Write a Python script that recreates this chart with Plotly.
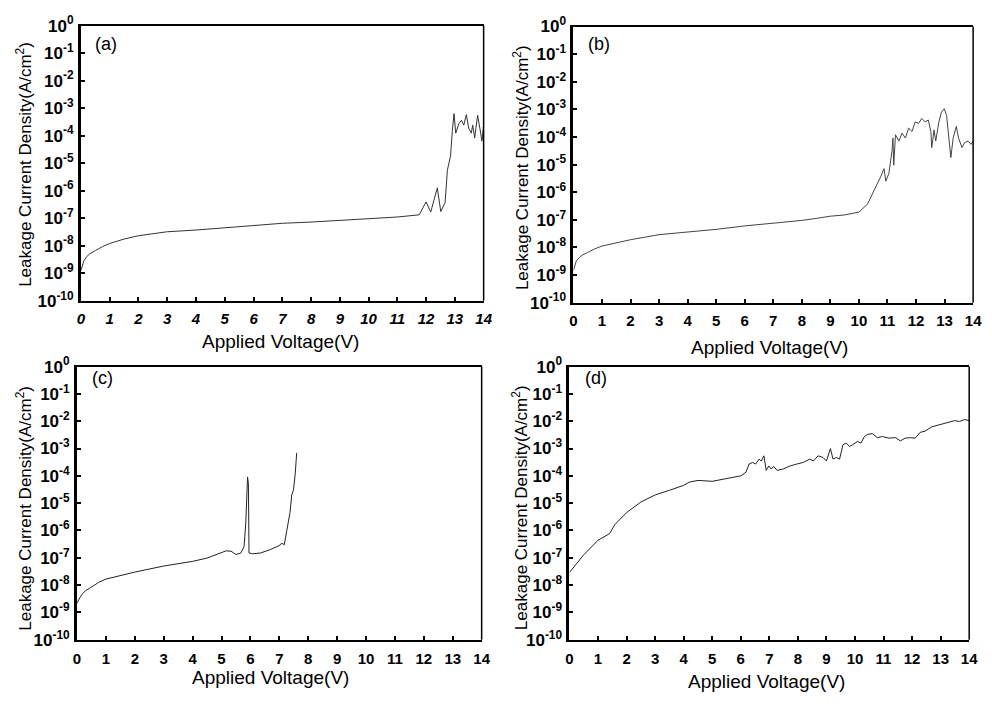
import plotly.graph_objects as go

# ---------------- data ----------------
volt_a = [0, 0.05, 0.1, 0.2, 0.3, 0.5, 0.75, 1, 1.5, 2, 3, 4, 5, 6, 7, 8, 9, 10, 11, 11.76,
          12.0, 12.16, 12.39, 12.51, 12.66, 12.74, 12.85, 12.91, 12.97, 13.03, 13.14, 13.23,
          13.31, 13.4, 13.48, 13.57, 13.62, 13.69, 13.79, 13.88, 13.94, 14.0]
curr_a = [1.26e-9, 2.0e-9, 2.8e-9, 4.0e-9, 5.0e-9, 6.6e-9, 9.3e-9, 1.2e-8, 1.74e-8, 2.3e-8,
          3.2e-8, 3.7e-8, 4.5e-8, 5.2e-8, 6.5e-8, 7.2e-8, 8.3e-8, 9.8e-8, 1.1e-7, 1.32e-7,
          3.9e-7, 1.66e-7, 1.26e-6, 1.74e-7, 3.7e-7, 5.5e-6, 1.86e-5, 1.4e-4, 6.3e-4, 1.23e-4,
          2.75e-4, 3.6e-4, 2.4e-4, 5.8e-4, 1.86e-4, 1.23e-4, 2.4e-4, 8.3e-5, 5.5e-4, 1.6e-4,
          6.3e-5, 2.4e-4]

volt_b = [0, 0.05, 0.1, 0.2, 0.3, 0.5, 0.75, 1, 1.5, 2, 3, 4, 5, 6, 7, 8, 8.5, 8.8, 9, 9.5,
          10, 10.3, 10.47, 10.76, 10.88, 10.94, 11.05, 11.16, 11.19, 11.22, 11.28, 11.4, 11.51,
          11.63, 11.74, 11.86, 11.97, 12.09, 12.2, 12.32, 12.43, 12.52, 12.55, 12.63, 12.69,
          12.8, 12.89, 12.99, 13.07, 13.15, 13.22, 13.3, 13.41, 13.49, 13.61, 13.7, 13.82,
          13.93, 14.0]
curr_b = [1.45e-9, 2.2e-9, 3.2e-9, 4.2e-9, 5.2e-9, 6.6e-9, 8.9e-9, 1.12e-8, 1.5e-8, 1.9e-8,
          2.9e-8, 3.5e-8, 4.5e-8, 6.0e-8, 7.4e-8, 9.5e-8, 1.12e-7, 1.26e-7, 1.35e-7, 1.5e-7,
          1.9e-7, 3.7e-7, 8.3e-7, 3.6e-6, 7.1e-6, 2.5e-6, 4.8e-6, 3.2e-5, 9.1e-5, 9.5e-6,
          1.2e-4, 7.1e-5, 1.38e-4, 9.1e-5, 2.1e-4, 1.58e-4, 3.5e-4, 3.1e-4, 4.7e-4, 3.5e-4,
          4.1e-4, 1.58e-4, 4.1e-5, 1.8e-4, 7.1e-5, 3.5e-4, 7.9e-4, 1.05e-3, 6.0e-4, 1.2e-4,
          1.8e-5, 9.1e-5, 2.4e-4, 9.1e-5, 4.1e-5, 6.2e-5, 7.1e-5, 5.4e-5, 7.2e-5]

volt_c = [0, 0.05, 0.1, 0.2, 0.3, 0.5, 0.75, 1, 1.5, 2, 3, 4, 4.5, 4.98, 5.16, 5.33, 5.5,
          5.67, 5.78, 5.84, 5.9, 5.93, 5.95, 6.07, 6.35, 6.69, 6.98, 7.09, 7.17, 7.26, 7.37,
          7.43, 7.49, 7.55, 7.6]
curr_c = [2.2e-9, 2.8e-9, 3.5e-9, 5.0e-9, 6.3e-9, 8.5e-9, 1.26e-8, 1.66e-8, 2.3e-8, 3.0e-8,
          5.0e-8, 7.4e-8, 9.8e-8, 1.5e-7, 1.8e-7, 1.74e-7, 1.32e-7, 1.5e-7, 2.6e-7, 2.0e-6,
          9.1e-5, 5.2e-5, 1.5e-7, 1.4e-7, 1.5e-7, 2.0e-7, 2.75e-7, 3.4e-7, 3.0e-7, 1.02e-6,
          4.6e-6, 2.0e-5, 3.1e-5, 1.2e-4, 6.9e-4]

volt_d = [0, 0.5, 1, 1.4, 1.6, 2, 2.5, 3, 3.5, 4, 4.2, 4.5, 5, 5.5, 6, 6.18, 6.29, 6.41,
          6.52, 6.64, 6.72, 6.81, 6.89, 6.98, 7.06, 7.16, 7.27, 7.5, 7.73, 7.96, 8.19, 8.42,
          8.54, 8.71, 8.88, 9.0, 9.14, 9.23, 9.34, 9.46, 9.58, 9.69, 9.81, 9.92, 10.09, 10.21,
          10.33, 10.44, 10.61, 10.78, 10.96, 11.19, 11.42, 11.59, 11.76, 11.94, 12.11, 12.28,
          12.45, 12.69, 12.92, 13.15, 13.32, 13.49, 13.66, 13.84, 14.0]
curr_d = [2.9e-8, 1.29e-7, 4.4e-7, 7.6e-7, 1.7e-6, 4.5e-6, 1.1e-5, 2.0e-5, 2.95e-5, 4.5e-5,
          5.9e-5, 6.8e-5, 6.3e-5, 7.8e-5, 1.0e-4, 1.35e-4, 2.7e-4, 3.1e-4, 2.7e-4, 4.1e-4,
          3.5e-4, 5.4e-4, 1.58e-4, 2.3e-4, 1.8e-4, 2.2e-4, 1.58e-4, 1.8e-4, 2.3e-4, 2.7e-4,
          3.1e-4, 4.1e-4, 3.5e-4, 5.4e-4, 4.7e-4, 3.5e-4, 1.0e-3, 4.1e-4, 4.7e-4, 4.1e-4,
          1.38e-3, 1.58e-3, 1.2e-3, 1.38e-3, 1.82e-3, 1.58e-3, 2.75e-3, 3.3e-3, 3.5e-3,
          2.5e-3, 2.75e-3, 2.4e-3, 2.5e-3, 1.9e-3, 2.4e-3, 2.5e-3, 2.4e-3, 3.9e-3, 4.3e-3,
          6.2e-3, 7.1e-3, 8.1e-3, 9.3e-3, 1.05e-2, 9.8e-3, 1.15e-2, 1.05e-2]

x_ticks = list(range(0, 15))
y_tick_vals = [1e-10, 1e-9, 1e-8, 1e-7, 1e-6, 1e-5, 1e-4, 1e-3, 1e-2, 1e-1, 1e0]
y_tick_text = ["10<sup>-10</sup>", "10<sup>-9</sup>", "10<sup>-8</sup>", "10<sup>-7</sup>",
               "10<sup>-6</sup>", "10<sup>-5</sup>", "10<sup>-4</sup>", "10<sup>-3</sup>",
               "10<sup>-2</sup>", "10<sup>-1</sup>", "10<sup>0</sup>"]
panel_labels = ["(a)", "(b)", "(c)", "(d)"]
x_title = "Applied Voltage(V)"
y_title = "Leakage Current Density(A/cm<sup>2</sup>)"

# ---------------- layout geometry (pixels) ----------------
W, H = 992, 704
# left, right, top, bottom of each plot area
boxes = [(78, 486, 14, 298), (577, 982, 15, 300), (74, 484, 366, 648), (573, 978, 366, 648)]
label_pos = [(103, 33), (603, 33), (100, 378), (600, 378)]
xtitle_pos = [(280, 340), (776, 346), (270, 687), (773, 691)]
ytitle_pos = [(20, 157), (524, 161), (20, 512), (523, 512)]
series = [(volt_a, curr_a), (volt_b, curr_b), (volt_c, curr_c), (volt_d, curr_d)]
line_colors = ["#333333", "#444444", "#222222", "#222222"]

FONT = "Liberation Sans, Arial, sans-serif"
fig = go.Figure()
annotations = []
shapes = []

for i, ((vx, cy), (l, r, t, b)) in enumerate(zip(series, boxes)):
    n = "" if i == 0 else str(i + 1)
    fig.add_trace(go.Scatter(x=vx, y=cy, mode="lines", xaxis="x" + n, yaxis="y" + n,
                             line=dict(color=line_colors[i], width=1), showlegend=False,
                             hoverinfo="skip"))
    xdom = [l / W, r / W]
    ydom = [1 - b / H, 1 - t / H]
    fig.layout["xaxis" + n] = dict(
        domain=xdom, anchor="y" + n, range=[0, 14], tickvals=x_ticks,
        ticks="inside", ticklen=4, tickwidth=1.5, tickcolor="black",
        showline=True, linewidth=1.5, linecolor="black", mirror=True,
        showgrid=False, zeroline=False, ticklabelstandoff=4,
        tickfont=dict(family=FONT, size=15, color="black", weight="bold",
                      style="italic" if i == 0 else "normal"),
    )
    fig.layout["yaxis" + n] = dict(
        domain=ydom, anchor="x" + n, type="log", range=[-10, 0],
        tickvals=y_tick_vals, ticktext=y_tick_text,
        ticks="inside", ticklen=4, tickwidth=1.5, tickcolor="black",
        showline=True, linewidth=3, linecolor="black", mirror=False,
        showgrid=False, zeroline=False, ticklabelstandoff=1,
        tickfont=dict(family=FONT, size=17, color="black", weight="bold"),
    )
    shapes.append(dict(type="line", xref="x" + n + " domain", yref="y" + n + " domain",
                       x0=1, x1=1, y0=0, y1=1, line=dict(color="black", width=1.5)))
    px, py = label_pos[i]
    annotations.append(dict(text=panel_labels[i], x=px / W, y=1 - py / H, xref="paper",
                            yref="paper", showarrow=False, xanchor="center", yanchor="middle",
                            font=dict(family=FONT, size=18, color="black")))
    px, py = xtitle_pos[i]
    annotations.append(dict(text=x_title, x=px / W, y=1 - py / H, xref="paper",
                            yref="paper", showarrow=False, xanchor="center", yanchor="middle",
                            font=dict(family=FONT, size=19, color="black")))
    px, py = ytitle_pos[i]
    annotations.append(dict(text=y_title, x=px / W, y=1 - py / H, xref="paper",
                            yref="paper", showarrow=False, xanchor="center", yanchor="middle",
                            textangle=-90, font=dict(family=FONT, size=17, color="black")))

fig.update_layout(width=W, height=H, margin=dict(l=0, r=0, t=0, b=0),
                  paper_bgcolor="white", plot_bgcolor="white",
                  annotations=annotations, shapes=shapes)
fig.write_html("out.html")
